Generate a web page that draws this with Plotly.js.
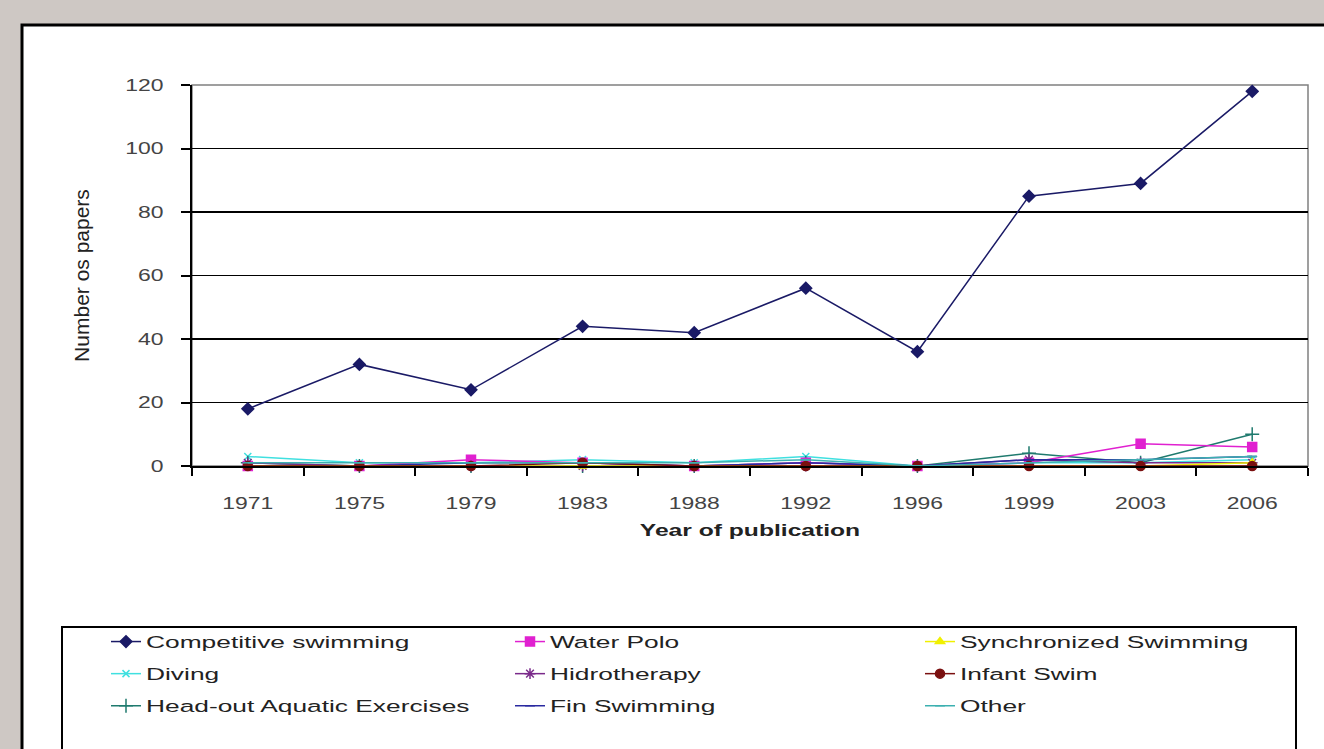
<!DOCTYPE html>
<html>
<head>
<meta charset="utf-8">
<script src="https://cdn.plot.ly/plotly-3.0.1.min.js"></script>
<style>
html,body{margin:0;padding:0;background:#cec8c4;}
#chart{width:1324px;height:749px;}
text.legendtext, text.legend2text, text.legend3text{transform:scaleX(1.55);transform-box:fill-box;transform-origin:left center;}
</style>
</head>
<body>
<div id="chart"></div>
<script>
var years = ['1971','1975','1979','1983','1988','1992','1996','1999','2003','2006'];
var competitive = [18,32,24,44,42,56,36,85,89,118];
var waterPolo = [0,0,2,1,0,1,0,1,7,6];
var synchronized = [0,0,0,0,0,0,0,0,0,1];
var diving = [3,1,1,2,1,3,0,1,1,2];
var hidrotherapy = [1,0,0,0,0,0,0,2,1,1];
var infantSwim = [0,0,0,1,0,0,0,0,0,0];
var headOut = [1,0,0,0,0,1,0,4,1,10];
var finSwimming = [0,0,1,1,0,1,0,2,2,3];
var other = [1,1,1,1,1,2,0,1,2,3];

var seriesNames = ['Competitive swimming','Water Polo','Synchronized Swimming','Diving','Hidrotherapy','Infant Swim','Head-out Aquatic Exercises','Fin Swimming','Other'];

function tr(name, y, color, symbol, size, legend) {
  return {
    type: 'scatter', mode: 'lines+markers', x: years, y: y, name: name,
    legend: legend, legendgroup: name,
    line: {color: color, width: 1.5},
    marker: {color: color, symbol: symbol, size: size, line: {color: color, width: 1.5}},
    cliponaxis: false
  };
}

var data = [
  tr(seriesNames[0], competitive, '#1a1a66', 'diamond', 9, 'legend'),
  tr(seriesNames[3], diving, '#40e0e0', 'x-thin-open', 7, 'legend'),
  tr(seriesNames[6], headOut, '#1f7a6e', 'cross-thin-open', 10, 'legend'),
  tr(seriesNames[1], waterPolo, '#e020d0', 'square', 9, 'legend2'),
  tr(seriesNames[4], hidrotherapy, '#7a2a8a', 'asterisk-open', 9, 'legend2'),
  tr(seriesNames[7], finSwimming, '#2a2aa0', 'line-ew-open', 7, 'legend2'),
  tr(seriesNames[2], synchronized, '#f0f000', 'triangle-up', 8, 'legend3'),
  tr(seriesNames[5], infantSwim, '#7a1010', 'circle', 9, 'legend3'),
  tr(seriesNames[8], other, '#3cb0b0', 'line-ew-open', 7, 'legend3')
];

var L = 192, R = 16, T = 85, B = 283;
var W = 1324 - L - R, H = 749 - T - B;
function px(x) { return (x - L) / W; }
function py(y) { return (749 - B - y) / H; }

var FONT = 'Liberation Sans, Arial, sans-serif';
var legendCommon = {
  orientation: 'v', yanchor: 'top', xanchor: 'left', y: py(624),
  bgcolor: 'rgba(0,0,0,0)', borderwidth: 0, tracegroupgap: 7,
  entrywidth: 340, entrywidthmode: 'pixels',
  font: {family: FONT, size: 17, color: '#222'}
};

var layout = {
  width: 1324, height: 749,
  paper_bgcolor: '#cec8c4',
  plot_bgcolor: 'rgba(0,0,0,0)',
  margin: {l: L, r: R, t: T, b: B, pad: 0, autoexpand: false},
  font: {family: FONT, color: '#333'},
  showlegend: true,
  legend: Object.assign({}, legendCommon, {x: px(106)}),
  legend2: Object.assign({}, legendCommon, {x: px(510)}),
  legend3: Object.assign({}, legendCommon, {x: px(920), entrywidth: 320}),
  xaxis: {
    type: 'category', range: [-0.5, 9.5], tickson: 'boundaries', ticks: 'outside', ticklen: 8, tickwidth: 2, tickcolor: '#000',
    showline: true, linecolor: '#000', linewidth: 2, showgrid: false, zeroline: false,
    ticklabelstandoff: 21,
    tickfont: {family: FONT, size: 17, color: '#444'},
    title: {text: '<b>Year of publication</b>', font: {family: FONT, size: 17, color: '#222'}, standoff: 12}
  },
  yaxis: {
    range: [0, 120], tickvals: [0,20,40,60,80,100,120], ticks: 'outside', ticklen: 9, tickwidth: 2, tickcolor: '#000',
    showline: true, linecolor: '#000', linewidth: 2, showgrid: true, gridcolor: '#000', gridwidth: 1.2, zeroline: false,
    ticklabelstandoff: 14,
    tickfont: {family: FONT, size: 17, color: '#444'},
    title: {text: 'Number os papers', font: {family: FONT, size: 21, color: '#222'}, standoff: 40}
  },
  shapes: [
    {type: 'rect', xref: 'paper', yref: 'paper', layer: 'below',
     x0: px(22), x1: px(1340), y0: py(770), y1: py(25),
     fillcolor: '#ffffff', line: {color: '#000', width: 3}},
    {type: 'rect', xref: 'paper', yref: 'paper', layer: 'below',
     x0: 0, x1: 1, y0: 0, y1: 1,
     fillcolor: 'rgba(0,0,0,0)', line: {color: '#808080', width: 1.5}},
    {type: 'rect', xref: 'paper', yref: 'paper', layer: 'below',
     x0: px(62), x1: px(1296), y0: py(770), y1: py(627),
     fillcolor: 'rgba(0,0,0,0)', line: {color: '#000', width: 2}}
  ]
};

// widen glyphs horizontally (the reference text is rendered wide)
function widen(gd, selector, sx) {
  gd.querySelectorAll(selector).forEach(function (t) {
    var trf = t.getAttribute('transform') || '';
    if (trf.indexOf('scale(') >= 0) return;
    var bb = t.getBBox();
    var anchor = t.getAttribute('text-anchor') || 'start';
    var ox = anchor === 'middle' ? bb.x + bb.width / 2 : (anchor === 'end' ? bb.x + bb.width : bb.x);
    t.setAttribute('transform', trf + ' translate(' + ox + ',0) scale(' + sx + ',1) translate(' + (-ox) + ',0)');
  });
}
function widenAll(gd) {
  widen(gd, '.xtick text', 1.35);
  widen(gd, '.ytick text', 1.35);
  widen(gd, '.xtitle', 1.45);
  gd.querySelectorAll('.scrollbox').forEach(function (s) { s.removeAttribute('clip-path'); });
}

Plotly.newPlot('chart', data, layout, {displayModeBar: false, responsive: false, staticPlot: true}).then(function (gd) {
  gd.on('plotly_afterplot', function () { widenAll(gd); });
  widenAll(gd);
  setTimeout(function () { widenAll(gd); }, 0);
});
</script>
</body>
</html>
